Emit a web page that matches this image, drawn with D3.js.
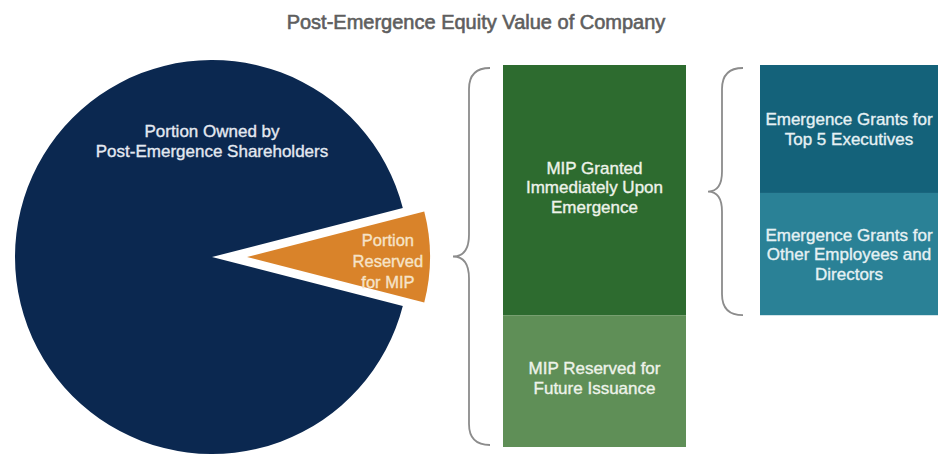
<!DOCTYPE html>
<html>
<head>
<meta charset="utf-8">
<script src="https://cdn.jsdelivr.net/npm/d3@7/dist/d3.min.js"></script>
<style>
  html, body { margin: 0; padding: 0; background: #ffffff; }
  svg { display: block; font-family: "Liberation Sans", Arial, Helvetica, sans-serif; }
</style>
</head>
<body>
<svg id="chart" width="938" height="454"></svg>
<script>
// Equity split of the company after emergence (percent of equity)
const equityLabels = [
  ["Portion Owned by", "Post-Emergence Shareholders"],
  ["Portion", "Reserved", "for MIP"]
];
const equityValues = [92, 8];

// MIP pool split (percent of the pool)
const mipLabels = [
  ["MIP Granted", "Immediately Upon", "Emergence"],
  ["MIP Reserved for", "Future Issuance"]
];
const mipValues = [65.5, 34.5];

// Emergence grants, as percent of the whole MIP pool
const grantLabels = [
  ["Emergence Grants for", "Top 5 Executives"],
  ["Emergence Grants for", "Other Employees and", "Directors"]
];
const grantValues = [33.5, 32];

const title = "Post-Emergence Equity Value of Company";

const svg = d3.select("#chart");

// ---- title
svg.append("text")
  .attr("x", 476).attr("y", 29)
  .attr("text-anchor", "middle")
  .attr("font-size", 20)
  .attr("fill", "#5e5e5e")
  .attr("stroke", "#5e5e5e")
  .attr("stroke-width", 0.6)
  .text(title);

// ---- pie with the MIP slice pulled out to the right
const cx = 212, cy = 257, rMain = 197, rMip = 183, explode = 35;
const mipAngle = 2 * Math.PI * equityValues[1] / d3.sum(equityValues);
const start = Math.PI / 2 + mipAngle / 2;
const pie = d3.pie().sort(null).startAngle(start).endAngle(start + 2 * Math.PI);
const arcs = pie(equityValues);
const pieColors = ["#0b2850", "#d9832a"];
const radii = [rMain, rMip];
const pieTextColors = ["#e4e9f1", "#f6e3c8"];

const pieG = svg.append("g").attr("transform", `translate(${cx},${cy})`);
arcs.forEach((a, i) => {
  const mid = (a.startAngle + a.endAngle) / 2;
  const off = i === 1 ? explode : 0;
  const dx = Math.sin(mid) * off, dy = -Math.cos(mid) * off;
  const g = pieG.append("g").attr("transform", `translate(${dx},${dy})`);
  g.append("path")
    .attr("d", d3.arc().innerRadius(0).outerRadius(radii[i])(a))
    .attr("fill", pieColors[i]);
});

// centred multi-line labels
function multiline(parent, lines, x, yCenter, size, lh, fill) {
  const t = parent.append("text")
    .attr("text-anchor", "middle")
    .attr("font-size", size)
    .attr("fill", fill)
    .attr("stroke", fill)
    .attr("stroke-width", 0.35);
  const first = yCenter - (lines.length - 1) * lh / 2 + size * 0.35;
  lines.forEach((ln, k) => {
    t.append("tspan").attr("x", x).attr("y", first + k * lh).text(ln);
  });
  return t;
}
multiline(pieG, equityLabels[0], 0, -116, 17, 19.5, pieTextColors[0]);
multiline(pieG, equityLabels[1], explode + rMip * 0.77, 4, 16.5, 21, pieTextColors[1]);

// ---- stacked MIP bar
const y = d3.scaleLinear().domain([0, d3.sum(mipValues)]).range([65, 447]);
const barX = 503, barW = 183;
const mipColors = ["#2d6b2f", "#5f8f57"];
let acc = 0;
mipValues.forEach((v, i) => {
  const y0 = y(acc), y1 = y(acc + v);
  svg.append("rect")
    .attr("x", barX).attr("y", y0)
    .attr("width", barW).attr("height", y1 - y0)
    .attr("fill", mipColors[i]);
  multiline(svg, mipLabels[i], barX + barW / 2, (y0 + y1) / 2 - 3, 17, 19.5, "#eef3ea");
  acc += v;
});

// ---- stacked grants bar (covers the granted part of the pool)
const gX = 760, gW = 180;
const grantColors = ["#14627a", "#2a8196"];
acc = 0;
grantValues.forEach((v, i) => {
  const y0 = y(acc), y1 = y(acc + v);
  svg.append("rect")
    .attr("x", gX).attr("y", y0)
    .attr("width", gW).attr("height", y1 - y0)
    .attr("fill", grantColors[i]);
  multiline(svg, grantLabels[i], gX + gW / 2 - 1, (y0 + y1) / 2, 17, 19.5, "#e6f1f4");
  acc += v;
});

// ---- curly braces
function brace(xLine, xEnd, xTip, yTop, yBot) {
  const r = xEnd - xLine;          // curl size at the ends
  const ym = (yTop + yBot) / 2;
  const t = xLine - xTip;          // depth of the middle cusp
  const p = d3.path();
  p.moveTo(xEnd, yTop);
  p.quadraticCurveTo(xLine, yTop, xLine, yTop + r);
  p.lineTo(xLine, ym - t - 6);
  p.quadraticCurveTo(xLine, ym, xTip, ym);
  p.quadraticCurveTo(xLine, ym, xLine, ym + t + 6);
  p.lineTo(xLine, yBot - r);
  p.quadraticCurveTo(xLine, yBot, xEnd, yBot);
  svg.append("path")
    .attr("d", p.toString())
    .attr("fill", "none")
    .attr("stroke", "#8c8c8c")
    .attr("stroke-width", 1.8);
}
brace(469, 490, 453, y(0) + 3, y(d3.sum(mipValues)) - 2);
brace(722, 743, 708, y(0) + 3, y(d3.sum(grantValues)));
</script>
</body>
</html>
